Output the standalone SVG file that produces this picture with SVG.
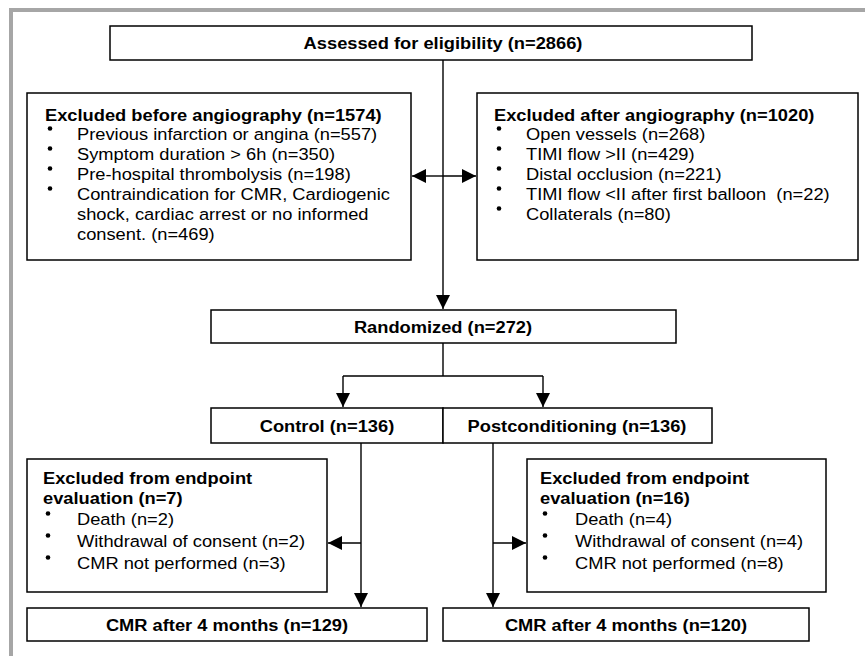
<svg xmlns="http://www.w3.org/2000/svg" width="865" height="656" viewBox="0 0 865 656">
<style>
.box{fill:#fff;stroke:#000;stroke-width:1.5}
.ln{fill:none;stroke:#000;stroke-width:1.4}
.t{font-family:"Liberation Sans",Arial,sans-serif;font-size:17px;fill:#000}
.b{font-weight:bold}
.c{text-anchor:middle}
.frame{fill:#a6a6a6}
</style>
<defs>
<marker id="ah" markerUnits="userSpaceOnUse" markerWidth="15" markerHeight="15" refX="14" refY="7" orient="auto">
<path d="M0,0 L14,7 L0,14 z" fill="#000"/>
</marker>
</defs>
<rect width="865" height="656" fill="#fff"/>
<rect class="frame" x="9" y="8" width="856" height="4"/>
<rect class="frame" x="9" y="8" width="4" height="648"/>

<g id="connectors">
<path class="ln" d="M443,60 V309" marker-end="url(#ah)"/>
<path class="ln" d="M443,176 H412" marker-end="url(#ah)"/>
<path class="ln" d="M443,176 H476" marker-end="url(#ah)"/>
<path class="ln" d="M443,343 V376 M343,376 H543"/>
<path class="ln" d="M343,376 V407" marker-end="url(#ah)"/>
<path class="ln" d="M543,376 V407" marker-end="url(#ah)"/>
<path class="ln" d="M361,443 V607" marker-end="url(#ah)"/>
<path class="ln" d="M361,543 H328" marker-end="url(#ah)"/>
<path class="ln" d="M493,443 V607" marker-end="url(#ah)"/>
<path class="ln" d="M493,543 H526" marker-end="url(#ah)"/>
</g>

<g id="assessed">
<rect class="box" x="110" y="26" width="642" height="34"/>
<g transform="scale(1.076,1)"><text class="t b c" x="411.71" y="49">Assessed for eligibility (n=2866)</text></g>
</g>

<g id="excluded-before">
<rect class="box" x="27" y="93" width="384" height="167"/>
<g fill="#000"><circle cx="50" cy="128.5" r="2.3"/><circle cx="50" cy="148.5" r="2.3"/><circle cx="50" cy="168.5" r="2.3"/><circle cx="50" cy="188.5" r="2.3"/></g>
<g transform="scale(1.076,1)">
<text class="t b" x="41.82" y="121">Excluded before angiography (n=1574)</text>
<text class="t" x="71.56" y="140">Previous infarction or angina (n=557)</text>
<text class="t" x="71.56" y="160">Symptom duration &gt; 6h (n=350)</text>
<text class="t" x="71.56" y="180">Pre-hospital thrombolysis (n=198)</text>
<text class="t" x="71.56" y="200">Contraindication for CMR, Cardiogenic</text>
<text class="t" x="71.56" y="220">shock, cardiac arrest or no informed</text>
<text class="t" x="71.56" y="240">consent. (n=469)</text>
</g>
</g>

<g id="excluded-after">
<rect class="box" x="477" y="93" width="381" height="167"/>
<g fill="#000"><circle cx="499" cy="128.5" r="2.3"/><circle cx="499" cy="148.5" r="2.3"/><circle cx="499" cy="168.5" r="2.3"/><circle cx="499" cy="188.5" r="2.3"/><circle cx="499" cy="208.5" r="2.3"/></g>
<g transform="scale(1.076,1)">
<text class="t b" x="459.11" y="121">Excluded after angiography (n=1020)</text>
<text class="t" x="488.85" y="140">Open vessels (n=268)</text>
<text class="t" x="488.85" y="160">TIMI flow &gt;II (n=429)</text>
<text class="t" x="488.85" y="180">Distal occlusion (n=221)</text>
<text class="t" x="488.85" y="200" xml:space="preserve">TIMI flow &lt;II after first balloon  (n=22)</text>
<text class="t" x="488.85" y="220">Collaterals (n=80)</text>
</g>
</g>

<g id="randomized">
<rect class="box" x="211" y="310" width="465" height="33"/>
<g transform="scale(1.076,1)"><text class="t b c" x="411.71" y="333">Randomized (n=272)</text></g>
</g>

<g id="control">
<rect class="box" x="211" y="408" width="232" height="35"/>
<g transform="scale(1.076,1)"><text class="t b c" x="303.90" y="432">Control (n=136)</text></g>
</g>

<g id="postconditioning">
<rect class="box" x="443" y="408" width="269" height="35"/>
<g transform="scale(1.076,1)"><text class="t b c" x="536.25" y="432">Postconditioning (n=136)</text></g>
</g>

<g id="excluded-control">
<rect class="box" x="27" y="459" width="300" height="133"/>
<g fill="#000"><circle cx="48" cy="513.5" r="2.3"/><circle cx="48" cy="535.5" r="2.3"/><circle cx="48" cy="557.5" r="2.3"/></g>
<g transform="scale(1.076,1)">
<text class="t b" x="39.96" y="484">Excluded from endpoint</text>
<text class="t b" x="39.96" y="504">evaluation (n=7)</text>
<text class="t" x="71.56" y="525">Death (n=2)</text>
<text class="t" x="71.56" y="547">Withdrawal of consent (n=2)</text>
<text class="t" x="71.56" y="569">CMR not performed (n=3)</text>
</g>
</g>

<g id="excluded-post">
<rect class="box" x="527" y="459" width="299" height="133"/>
<g fill="#000"><circle cx="545" cy="513.5" r="2.3"/><circle cx="545" cy="535.5" r="2.3"/><circle cx="545" cy="557.5" r="2.3"/></g>
<g transform="scale(1.076,1)">
<text class="t b" x="501.86" y="484">Excluded from endpoint</text>
<text class="t b" x="501.86" y="504">evaluation (n=16)</text>
<text class="t" x="534.39" y="525">Death (n=4)</text>
<text class="t" x="534.39" y="547">Withdrawal of consent (n=4)</text>
<text class="t" x="534.39" y="569">CMR not performed (n=8)</text>
</g>
</g>

<g id="cmr-control">
<rect class="box" x="27" y="608" width="400" height="33"/>
<g transform="scale(1.076,1)"><text class="t b c" x="210.97" y="631">CMR after 4 months (n=129)</text></g>
</g>

<g id="cmr-post">
<rect class="box" x="443" y="608" width="366" height="33"/>
<g transform="scale(1.076,1)"><text class="t b c" x="581.78" y="631">CMR after 4 months (n=120)</text></g>
</g>
</svg>
